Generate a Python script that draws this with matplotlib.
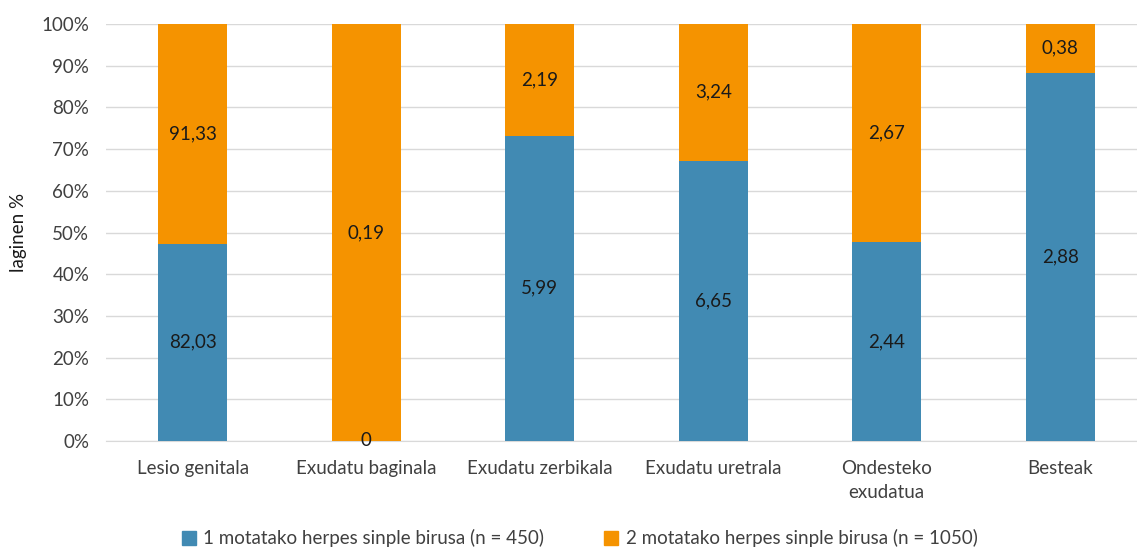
import matplotlib
matplotlib.use("Agg")
import matplotlib.pyplot as plt
import numpy as np
from matplotlib.ticker import PercentFormatter
from matplotlib.patches import Patch

categories = ["Lesio genitala", "Exudatu baginala", "Exudatu zerbikala",
              "Exudatu uretrala", "Ondesteko\nexudatua", "Besteak"]
hsv1 = [82.03, 0.0, 5.99, 6.65, 2.44, 2.88]
hsv2 = [91.33, 0.19, 2.19, 3.24, 2.67, 0.38]
series_names = ["1 motatako herpes sinple birusa (n = 450)",
                "2 motatako herpes sinple birusa (n = 1050)"]
y_label = "laginen %"

c1 = "#418AB3"
c2 = "#F59300"
txt = "#404040"
fs = 13.5

plt.rcParams['font.family'] = ['Lato', 'DejaVu Sans']

a = np.array(hsv1)
b = np.array(hsv2)
tot = a + b
p1 = a / tot * 100
p2 = b / tot * 100

fig = plt.figure(figsize=(11.37, 5.5), dpi=100)
ax = fig.add_axes([106/1137, 109/550, 1041/1137, 417/550])
x = np.arange(len(categories))
w = 0.4
ax.bar(x, p1, w, color=c1, zorder=3)
ax.bar(x, p2, w, bottom=p1, color=c2, zorder=3)

def fmt(v):
    return "0" if v == 0 else f"{v:.2f}".replace(".", ",")

for i in range(len(x)):
    ax.text(x[i], p1[i] / 2, fmt(hsv1[i]), ha="center", va="center",
            fontsize=fs, color="#1a1a1a", zorder=4)
    ax.text(x[i], p1[i] + p2[i] / 2, fmt(hsv2[i]), ha="center", va="center",
            fontsize=fs, color="#1a1a1a", zorder=4)

ax.set_xlim(-0.5, 5.5)
ax.set_ylim(0, 100)
ax.set_yticks(np.arange(0, 101, 10))
ax.yaxis.set_major_formatter(PercentFormatter(decimals=0))
ax.grid(axis="y", color="#d9d9d9", linewidth=1, zorder=0)
ax.set_xticks(x)
ax.set_xticklabels(categories, fontsize=fs, color=txt, linespacing=1.45)
ax.tick_params(axis="both", length=0, labelsize=fs, labelcolor=txt)
ax.tick_params(axis="x", pad=14)
ax.tick_params(axis="y", pad=12)
for s in ["top", "right", "left"]:
    ax.spines[s].set_visible(False)
ax.spines["bottom"].set_color("#d9d9d9")
ax.set_ylabel(y_label, fontsize=fs, color="#1a1a1a")
ax.yaxis.set_label_coords(-0.076, 0.5)

handles = [Patch(color=c1), Patch(color=c2)]
fig.legend(handles, series_names, loc="lower center", bbox_to_anchor=(0.51, -0.026),
           ncol=2, frameon=False, fontsize=fs, handlelength=0.75, handleheight=0.75,
           handletextpad=0.4, columnspacing=3.2, labelcolor=txt)

fig.savefig("out.png", dpi=100)
